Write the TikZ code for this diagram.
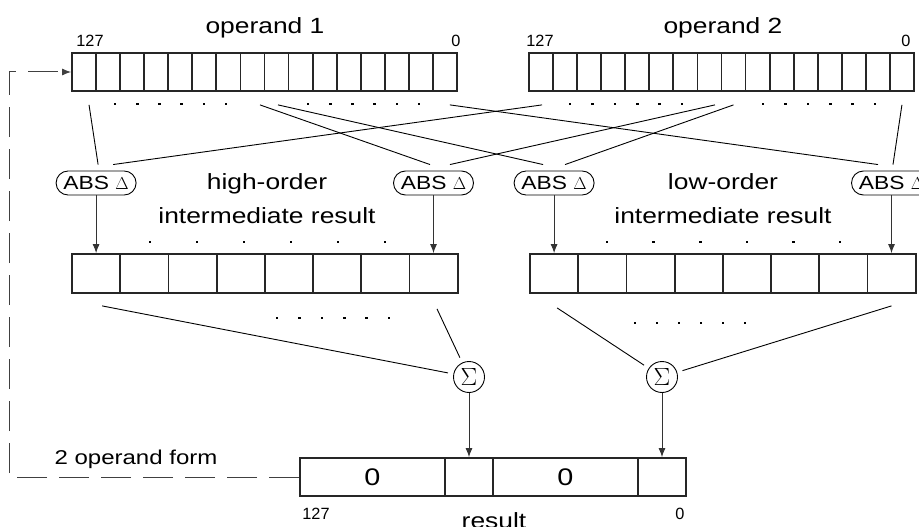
\documentclass[tikz,border=0pt]{standalone}
\usepackage{fontspec}
\setmainfont{Liberation Sans}
\newfontfamily\widesf[FakeStretch=1.2]{Liberation Sans}
\usetikzlibrary{arrows.meta,calc}
\tikzset{cell/.style={draw=black!85,line width=1.8pt,minimum height=38pt,inner sep=0pt},numcell/.style={cell,font=\widesf\fontsize{24}{28}\selectfont},absbox/.style={draw,line width=0.9pt,rounded corners=12pt,minimum width=80pt,minimum height=24pt,inner sep=0pt,font=\widesf\fontsize{19}{20}\selectfont},sumbox/.style={draw,circle,line width=0.9pt,minimum size=31pt,inner sep=0pt,font=\fontsize{23}{24}\selectfont},wire/.style={line width=0.9pt},feed/.style={-{Latex[length=9pt,width=7pt]},line width=0.9pt,black!80},loopback/.style={-{Latex[length=9pt,width=7pt]},line width=1pt,black!75,dash pattern=on 30pt off 12pt},bigtxt/.style={font=\widesf\fontsize{22}{34}\selectfont,align=center,inner sep=0pt},bitno/.style={font=\fontsize{16.3}{18}\selectfont,inner sep=0pt}}

\begin{document}
\begin{tikzpicture}[x=1pt,y=-1pt]
\useasboundingbox (0,0) rectangle (919,527);
\foreach \i in {1,...,16}{
\node[cell,minimum width=24.06pt] (a\i) at ({72+(\i-.5)*24.06},72) {};
\node[cell,minimum width=24.06pt] (b\i) at ({529+(\i-.5)*24.06},72) {};}
\foreach \i in {1,...,8}{
\node[cell,minimum width=48.2pt,minimum height=39pt] (h\i) at ({72+(\i-.5)*48.2},273.5) {};
\node[cell,minimum width=48.2pt,minimum height=39pt] (l\i) at ({530+(\i-.5)*48.2},273.5) {};}
\node[numcell,minimum width=145pt] (r1) at (372.5,477) {0};
\node[cell,minimum width=48pt] (r2) at (469,477) {};
\node[numcell,minimum width=145pt] (r3) at (565.5,477) {0};
\node[cell,minimum width=48pt] (r4) at (662,477) {};
\node[bigtxt] (op1) at (265,28) {operand 1};
\node[bigtxt] (op2) at (723,28) {operand 2};
\node[bitno] (a127) at (90,41) {127};
\node[bitno] (a0) at (456,41) {0};
\node[bitno] (b127) at (540,41) {127};
\node[bitno] (b0) at (906,41) {0};
\node[bigtxt] (hi) at (267,199) {high-order\\intermediate result};
\node[bigtxt] (lo) at (723,199) {low-order\\intermediate result};
\node[bitno] (r127) at (316,514) {127};
\node[bitno] (r0) at (680,514) {0};
\node[bigtxt,anchor=base] (res) at (494,528) {result};
\node[bigtxt,font=\widesf\fontsize{20}{24}\selectfont,anchor=base] (form) at (136,464) {2 operand form};
\foreach \n/\c in {d1/h1,d2/h8,d3/l1,d4/l8}{
\node[absbox] (\n) at (\c |- 0,183) {ABS $\Delta$};
\draw[feed] (\n) -- (\c);}
\node[sumbox] (s1) at (r2 |- 0,377) {$\Sigma$};
\node[sumbox] (s2) at (r4 |- 0,377) {$\Sigma$};
\draw[feed] (s1) -- (r2);
\draw[feed] (s2) -- (r4);
\foreach \s/\sx/\t/\tx in {a1/5/d1/2,b1/1/d1/17,a8/7.5/d2/-3.5,b8/5.5/d2/16.5,a9/1.5/d3/-11,b9/0/d3/11,a16/5/d4/-13.5,b16/0/d4/1.5}
\draw[wire] ($(\s.south)+(\sx,13)$) -- ($(\t.north)+(\tx,-6)$);
\foreach \s/\sx/\sy/\t in {h1/6/12/s1,h8/3.5/15/s1,l1/3/14/s2,l8/0/12/s2}
\draw[wire,shorten >=5.5pt] ($(\s.south)+(\sx,\sy)$) -- (\t);
\draw[loopback] (r1.west) -- ++(-290,0) |- (a1.west);
\foreach \x/\y/\d in {115/104/22.2,308/104/22.2,570/104/22.4,763/104/22.4,150/242/47,607/242/46.6,277/318/22.4,635/323/22}
\foreach \k in {0,...,5} \fill ({\x+\k*\d-1.3},{\y-1.3}) rectangle +(2.6,2.6);
\end{tikzpicture}
\end{document}
